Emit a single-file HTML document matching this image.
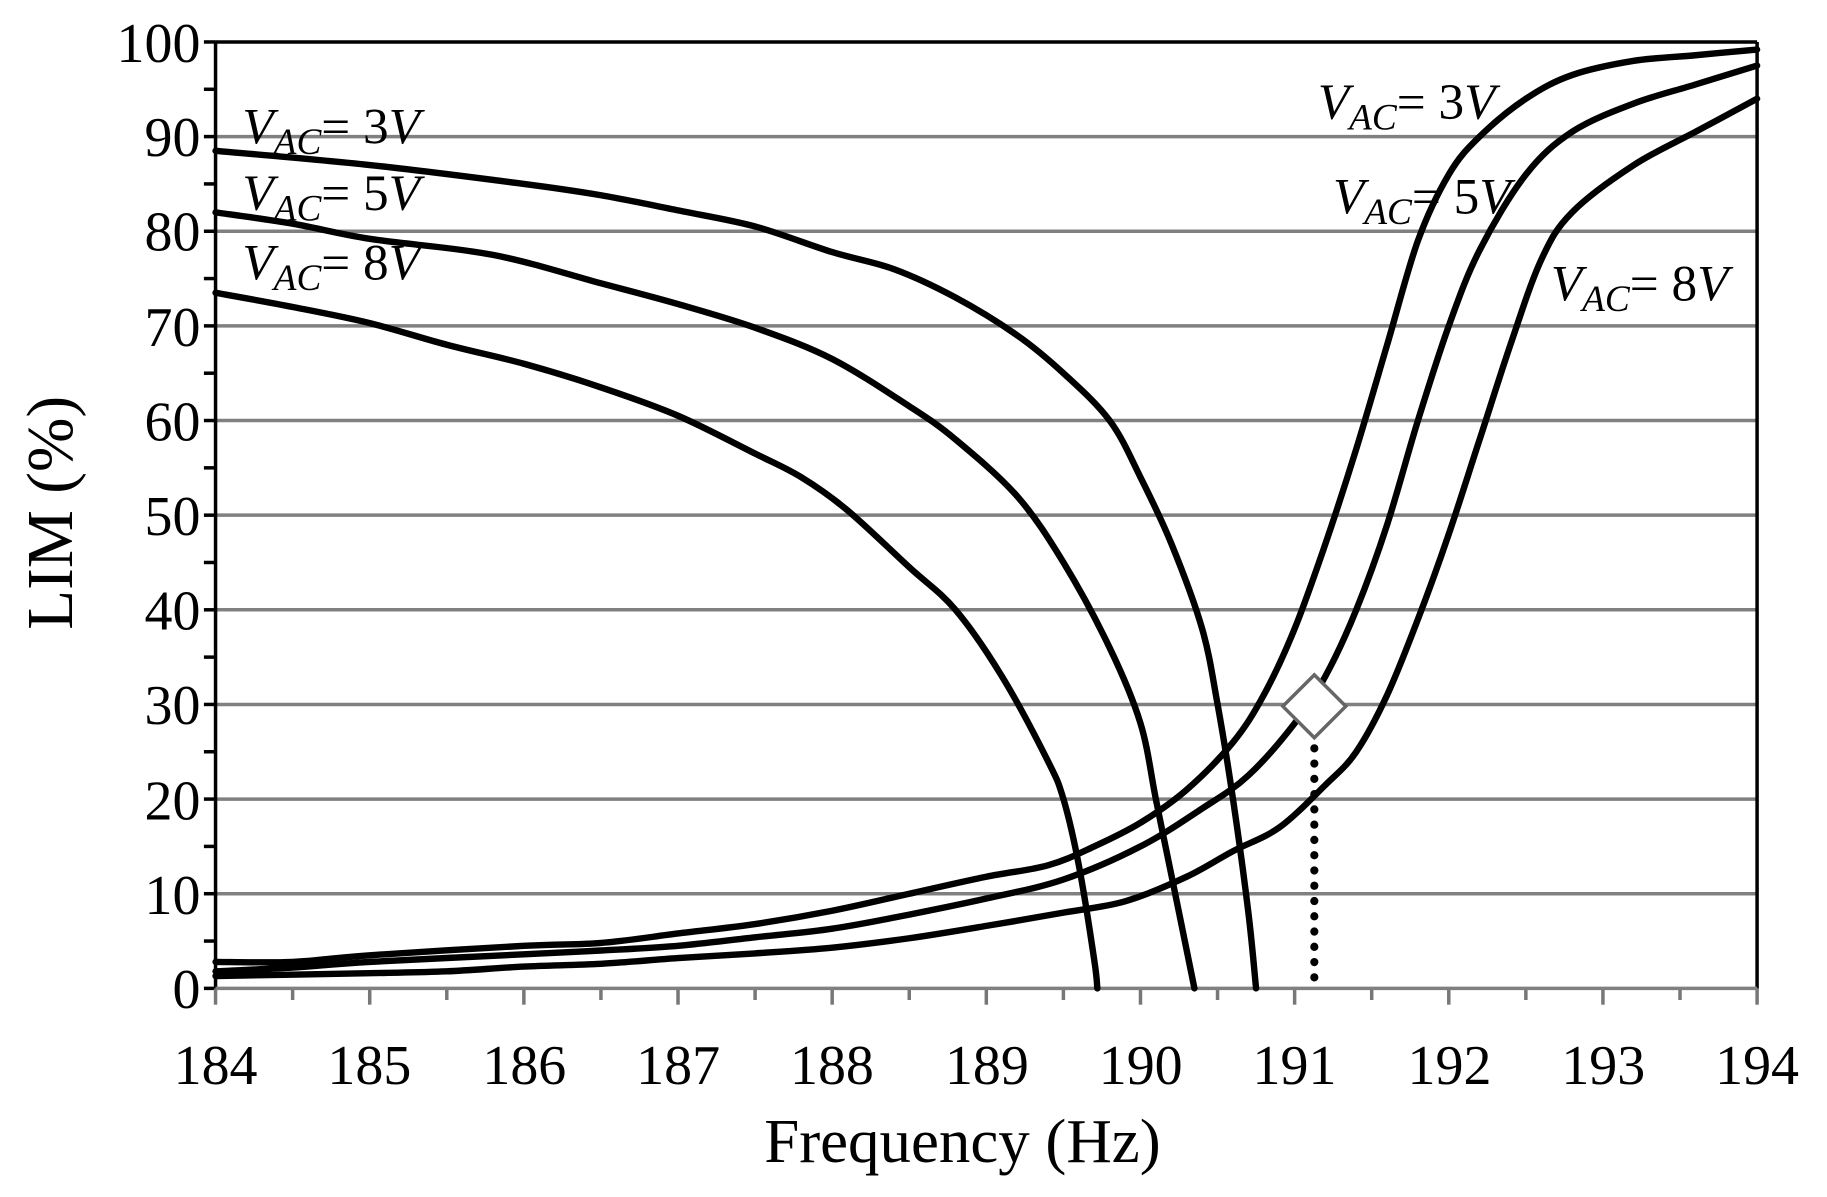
<!DOCTYPE html>
<html><head><meta charset="utf-8"><style>
html,body{margin:0;padding:0;background:#fff;}
svg{display:block;}
text{font-family:"Liberation Serif",serif;fill:#000;}
</style></head><body>
<svg id="s" width="1827" height="1197" viewBox="0 0 1568 1027" preserveAspectRatio="none" xmlns="http://www.w3.org/2000/svg">
<g id="grid" stroke="#808080" stroke-width="3"></g>
<g id="ticks"></g>
<line x1="185" y1="36" x2="1508" y2="36" stroke="#000" stroke-width="3"/>
<line x1="185" y1="36" x2="185" y2="848" stroke="#000" stroke-width="3"/>
<line x1="1508" y1="36" x2="1508" y2="848" stroke="#000" stroke-width="3"/>
<line x1="185" y1="848" x2="1508" y2="848" stroke="#808080" stroke-width="3"/>
<g font-size="48" text-anchor="end">
<text x="172" y="53">100</text><text x="172" y="134">90</text><text x="172" y="215">80</text><text x="172" y="297">70</text><text x="172" y="378">60</text><text x="172" y="459">50</text><text x="172" y="540">40</text><text x="172" y="621">30</text><text x="172" y="703">20</text><text x="172" y="784">10</text><text x="172" y="865">0</text>
</g>
<g font-size="48" text-anchor="middle">
<text x="185" y="930">184</text><text x="317" y="930">185</text><text x="450" y="930">186</text><text x="582" y="930">187</text><text x="714" y="930">188</text><text x="847" y="930">189</text><text x="979" y="930">190</text><text x="1111" y="930">191</text><text x="1244" y="930">192</text><text x="1376" y="930">193</text><text x="1508" y="930">194</text>
</g>
<text x="826" y="997" font-size="54" text-anchor="middle">Frequency (Hz)</text>
<text transform="translate(62,440) rotate(-90)" font-size="56" text-anchor="middle">LIM (%)</text>
<g id="curves" fill="none" stroke="#000" stroke-width="5.5" stroke-linejoin="round" stroke-linecap="round"></g>
<line x1="1128" y1="642" x2="1128" y2="850" stroke="#000" stroke-width="7" stroke-dasharray="0.1 13" stroke-linecap="round"/>
<polygon points="1128,579 1155,606 1128,633 1101,606" fill="#fff" stroke="#666" stroke-width="3"/>
<g font-size="44" font-style="italic">
<text x="208" y="123">V<tspan font-size="32" dy="9">AC</tspan><tspan dy="-9" font-style="normal">= 3</tspan>V</text>
<text x="208" y="180">V<tspan font-size="32" dy="9">AC</tspan><tspan dy="-9" font-style="normal">= 5</tspan>V</text>
<text x="208" y="240">V<tspan font-size="32" dy="9">AC</tspan><tspan dy="-9" font-style="normal">= 8</tspan>V</text>
<text x="1131" y="102">V<tspan font-size="32" dy="9">AC</tspan><tspan dy="-9" font-style="normal">= 3</tspan>V</text>
<text x="1144" y="183">V<tspan font-size="32" dy="9">AC</tspan><tspan dy="-9" font-style="normal">= 5</tspan>V</text>
<text x="1331" y="258">V<tspan font-size="32" dy="9">AC</tspan><tspan dy="-9" font-style="normal">= 8</tspan>V</text>
</g>
</svg>
<script>
var NS="http://www.w3.org/2000/svg";
function X(f){return 185+(f-184)*132.3;}
function Y(v){return 848-v*8.12;}
function el(p,t,a){var e=document.createElementNS(NS,t);for(var k in a)e.setAttribute(k,a[k]);p.appendChild(e);return e;}
var g=document.getElementById('grid'),tk=document.getElementById('ticks');
for(var v=10;v<100;v+=10)el(g,'line',{x1:185,x2:1508,y1:Y(v),y2:Y(v)});
for(var v=0;v<=100;v+=5)el(tk,'line',{x1:175,x2:185,y1:Y(v),y2:Y(v),stroke:'#000','stroke-width':3});
for(var f=184;f<=194.01;f+=0.5){var maj=Math.abs(f-Math.round(f))<0.01;el(tk,'line',{x1:X(f),x2:X(f),y1:848,y2:maj?862:858,stroke:'#777','stroke-width':3});}
var D=[
[[184,88.5],[185,87],[186,85],[186.5,83.8],[187,82.2],[187.5,80.5],[188,77.8],[188.4,76],[188.8,73],[189.2,69],[189.5,65],[189.8,60],[190,54],[190.2,47],[190.4,38],[190.5,30],[190.6,20],[190.7,8],[190.75,0]],
[[184,82],[184.5,80.8],[185,79.2],[185.8,77.5],[186.5,74.5],[187,72.3],[187.5,69.8],[188,66.5],[188.5,61.5],[188.8,58],[189.2,52],[189.5,45],[189.8,36],[190,28],[190.1,20],[190.2,12],[190.3,4],[190.35,0]],
[[184,73.5],[184.5,72],[185,70.3],[185.5,68],[186,66],[186.5,63.5],[187,60.5],[187.5,56.5],[187.8,54],[188.1,50.5],[188.5,44.5],[188.8,40],[189.1,33],[189.4,24],[189.5,20],[189.6,13],[189.7,3],[189.72,0]],
[[184,2.8],[184.5,2.8],[185,3.5],[186,4.5],[186.5,4.8],[187,5.8],[187.5,6.8],[188,8.2],[188.5,10],[189,11.8],[189.4,13],[189.7,15],[190,17.5],[190.3,21],[190.6,26],[190.8,31],[191,38],[191.2,47],[191.4,57],[191.6,68],[191.8,79],[192,86],[192.2,90],[192.5,94],[192.8,96.5],[193.2,98],[193.6,98.6],[194,99.2]],
[[184,1.8],[184.5,2.2],[185,2.8],[186,3.6],[186.5,4],[187,4.5],[187.5,5.4],[188,6.3],[188.5,7.8],[189,9.5],[189.5,11.5],[190,15],[190.4,19],[190.7,22.5],[191,28],[191.2,33],[191.4,40],[191.6,49],[191.8,60],[192,70],[192.2,78],[192.5,86],[192.8,90.5],[193.2,93.5],[193.6,95.5],[194,97.5]],
[[184,1.3],[185,1.6],[185.5,1.8],[186,2.3],[186.5,2.6],[187,3.2],[187.5,3.7],[188,4.3],[188.5,5.3],[189,6.6],[189.5,8],[189.9,9.2],[190.3,11.8],[190.6,14.5],[190.9,17],[191.2,21.5],[191.4,25],[191.6,31],[191.8,39],[192,48],[192.2,58],[192.4,68],[192.6,77],[192.8,82],[193.2,87],[193.6,90.5],[194,94]]
];
var c=document.getElementById('curves');
D.forEach(function(s){
  var P=s.map(function(p){return [X(p[0]),Y(p[1])];});
  var d='M'+P[0][0].toFixed(1)+','+P[0][1].toFixed(1);
  for(var i=0;i<P.length-1;i++){
    var p0=P[i>0?i-1:i],p1=P[i],p2=P[i+1],p3=P[i+2<P.length?i+2:i+1];
    var c1x=p1[0]+(p2[0]-p0[0])/6,c1y=p1[1]+(p2[1]-p0[1])/6;
    var c2x=p2[0]-(p3[0]-p1[0])/6,c2y=p2[1]-(p3[1]-p1[1])/6;
    d+=' C'+c1x.toFixed(1)+','+c1y.toFixed(1)+' '+c2x.toFixed(1)+','+c2y.toFixed(1)+' '+p2[0].toFixed(1)+','+p2[1].toFixed(1);
  }
  el(c,'path',{d:d});
});
</script>
</body></html>
